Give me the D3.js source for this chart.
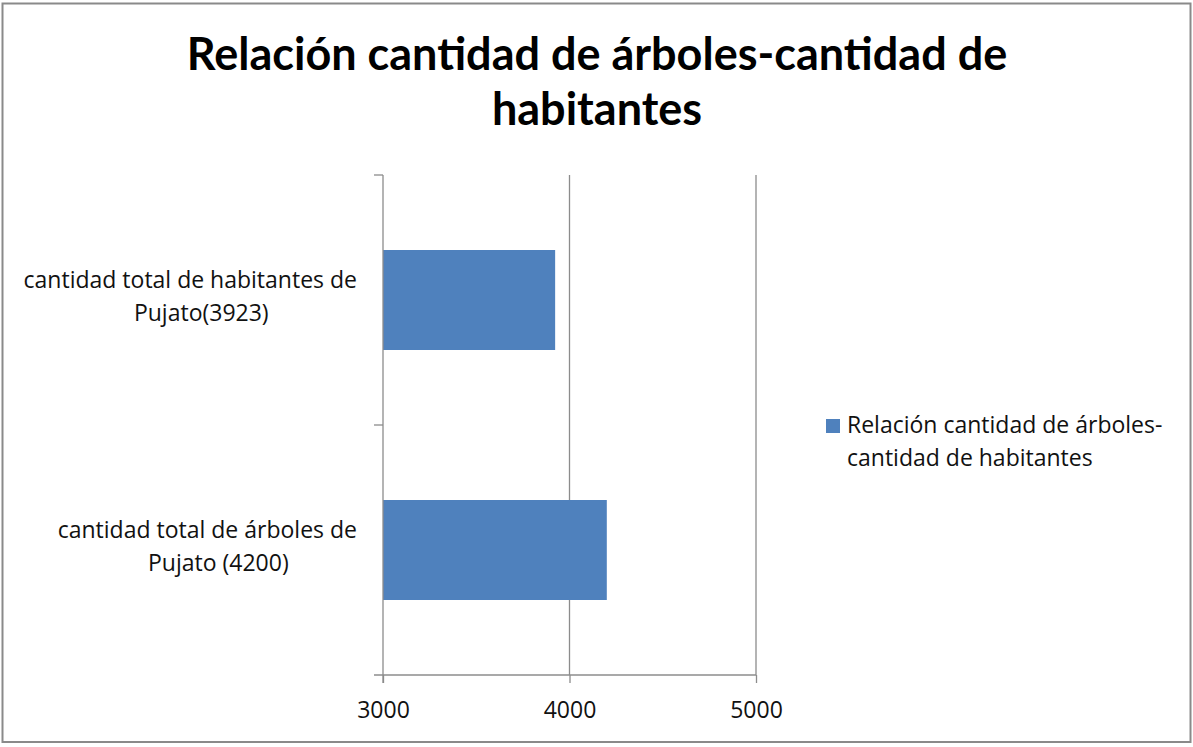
<!DOCTYPE html>
<html>
<head>
<meta charset="utf-8">
<script src="https://cdn.jsdelivr.net/npm/d3@7"></script>
<style>
  body { margin: 0; background: #fff; }
  text { font-family: "Open Sans", sans-serif; fill: #111; }
</style>
</head>
<body>
<div id="chart"></div>
<script>
// data
const titleLines = ["Relación cantidad de árboles-cantidad de", "habitantes"];
const seriesName = ["Relación cantidad de árboles-", "cantidad de habitantes"];
const categories = [
  ["cantidad total de habitantes de", "Pujato(3923)"],
  ["cantidad total de árboles de", "Pujato (4200)"]
];
const values = [3923, 4200];
const xTicks = [3000, 4000, 5000];

const W = 1193, H = 747;
const svg = d3.select("#chart").append("svg")
    .attr("width", W)
    .attr("height", H);

// outer border
svg.append("rect")
    .attr("x", 2.5).attr("y", 3.5)
    .attr("width", 1188).attr("height", 738.5)
    .attr("fill", "#fff")
    .attr("stroke", "#8a8a8a")
    .attr("stroke-width", 2);

// title
svg.append("text")
    .attr("text-anchor", "middle")
    .style("font-family", "Lato, sans-serif")
    .style("font-weight", "bold")
    .style("font-size", "45px")
    .style("fill", "#000")
    .selectAll("tspan")
    .data(titleLines)
    .enter().append("tspan")
    .attr("x", 597)
    .attr("y", (d, i) => 70 + i * 55)
    .text(d => d);

// scales
const x = d3.scaleLinear()
    .domain([3000, 5000])
    .range([383, 756]);

const y = d3.scaleBand()
    .domain(d3.range(categories.length))
    .range([175, 675])
    .paddingInner(0.6)
    .paddingOuter(0.3);

const yCat = d3.scaleBand()
    .domain(d3.range(categories.length))
    .range([175, 675]);

// gridlines
svg.append("g")
    .selectAll("line")
    .data(xTicks.slice(1))
    .enter().append("line")
    .attr("x1", d => x(d)).attr("x2", d => x(d))
    .attr("y1", 175).attr("y2", 675)
    .attr("stroke", "#8c8c8c")
    .attr("stroke-width", 1.3);

// bars
svg.append("g")
    .selectAll("rect")
    .data(values)
    .enter().append("rect")
    .attr("x", x(3000))
    .attr("y", (d, i) => y(i))
    .attr("width", d => x(d) - x(3000))
    .attr("height", y.bandwidth())
    .attr("fill", "#4f81bd");

// x axis
const xAxis = svg.append("g")
    .attr("transform", "translate(0,675)")
    .call(d3.axisBottom(x).tickValues(xTicks).tickFormat(d3.format("d"))
        .tickSize(8).tickPadding(19).tickSizeOuter(0));
xAxis.select(".domain").attr("stroke", "#8c8c8c").attr("stroke-width", 1.3)
    .attr("d", "M374,0H" + x(5000));
xAxis.selectAll(".tick line").attr("stroke", "#8c8c8c").attr("stroke-width", 1.3);
xAxis.selectAll(".tick text")
    .style("font-size", "23px")
    .style("font-family", "'Open Sans', sans-serif")
    .attr("fill", "#111");

// y axis line and category ticks
const yAxis = svg.append("g")
    .attr("transform", "translate(383,0)");
yAxis.append("line")
    .attr("x1", 0).attr("x2", 0)
    .attr("y1", 175).attr("y2", 683)
    .attr("stroke", "#8c8c8c").attr("stroke-width", 1.3);
yAxis.selectAll(".ytick")
    .data([175, 425])
    .enter().append("line")
    .attr("class", "ytick")
    .attr("x1", -9).attr("x2", 0)
    .attr("y1", d => d).attr("y2", d => d)
    .attr("stroke", "#8c8c8c").attr("stroke-width", 1.3);

// category labels, two lines each
categories.forEach(function(lines, i) {
    const cy = yCat(i) + yCat.bandwidth() / 2;
    const g = svg.append("g");
    const t1 = g.append("text")
        .attr("text-anchor", "end")
        .attr("x", 357)
        .attr("y", cy - 12)
        .style("font-size", "23px")
        .text(lines[0]);
    const w1 = t1.node().getComputedTextLength();
    g.append("text")
        .attr("text-anchor", "middle")
        .attr("x", 357 - w1 / 2 + 11)
        .attr("y", cy + 21)
        .style("font-size", "23px")
        .text(lines[1]);
});

// legend
const legend = svg.append("g");
legend.append("rect")
    .attr("x", 826).attr("y", 419)
    .attr("width", 14).attr("height", 14)
    .attr("fill", "#4f81bd");
legend.append("text")
    .style("font-size", "23px")
    .selectAll("tspan")
    .data(seriesName)
    .enter().append("tspan")
    .attr("x", 847)
    .attr("y", (d, i) => 433 + i * 33)
    .text(d => d);
</script>
</body>
</html>
